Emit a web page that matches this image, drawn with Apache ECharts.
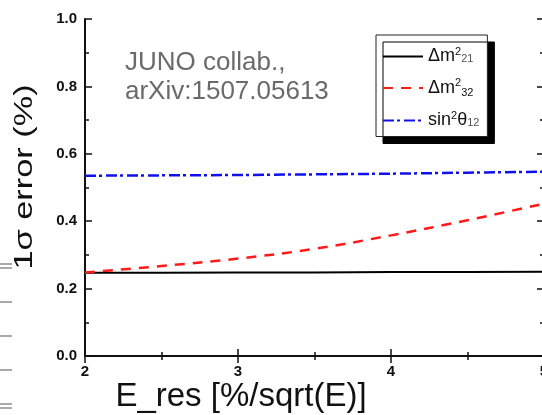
<!DOCTYPE html>
<html>
<head>
<meta charset="utf-8">
<script src="https://cdn.jsdelivr.net/npm/echarts@6/dist/echarts.min.js"></script>
<style>
  html, body { margin: 0; padding: 0; background: #fff; }
  #chart { width: 542px; height: 415px; }
</style>
</head>
<body>
<div id="chart"></div>
<script>
// Energy resolution (% / sqrt(E)) on the horizontal axis
var resolution = [2, 2.5, 3, 3.5, 4, 4.5, 5];

// 1-sigma relative precision (%) for each oscillation parameter
var dm21Error = [0.247, 0.247, 0.248, 0.248, 0.249, 0.249, 0.250];
var dm32Error = [0.248, 0.267, 0.289, 0.318, 0.358, 0.403, 0.452];
var s12Error  = [0.535, 0.536, 0.537, 0.539, 0.541, 0.544, 0.547];

var seriesNames = ['dm21', 'dm32', 's12'];
var legendLabels = {
  dm21: '{m|Δm}{sup|2}{sub|21}',
  dm32: '{m|Δm}{sup|2}{sub2|32}',
  s12:  '{m|sin}{sup|2}{m|θ}{sub|12}'
};

var xTicks = { min: 2, max: 5, step: 1 };
var yTicks = { min: 0, max: 1, step: 0.2 };

function pairs(xs, ys) {
  return xs.map(function (x, i) { return [x, ys[i]]; });
}

var FONT = 'Liberation Sans, Arial, sans-serif';

var axisLine = { show: true, lineStyle: { color: '#111', width: 2 } };

function xAxisDef(pos, labels) {
  return {
    type: 'value', position: pos,
    min: xTicks.min, max: xTicks.max, interval: xTicks.step,
    axisLine: axisLine,
    axisTick: { show: true, inside: true, length: 7, lineStyle: { color: '#111', width: 1.5 } },
    minorTick: { show: true, splitNumber: 2, length: 4, lineStyle: { color: '#111', width: 1.5 } },
    splitLine: { show: false },
    axisLabel: {
      show: labels, margin: 8, color: '#111', showMinLabel: true, showMaxLabel: true,
      hideOverlap: false,
      fontFamily: FONT, fontWeight: 'bold', fontSize: 15
    }
  };
}

function yAxisDef(pos, labels) {
  return {
    type: 'value', position: pos,
    min: yTicks.min, max: yTicks.max, interval: yTicks.step,
    axisLine: axisLine,
    axisTick: { show: true, inside: true, length: 7, lineStyle: { color: '#111', width: 1.5 } },
    minorTick: { show: true, splitNumber: 2, length: 4, lineStyle: { color: '#111', width: 1.5 } },
    splitLine: { show: false },
    axisLabel: {
      show: labels, margin: 8, color: '#111',
      fontFamily: FONT, fontWeight: 'bold', fontSize: 15,
      formatter: function (v) { return v.toFixed(1); }
    }
  };
}

var chart = echarts.init(document.getElementById('chart'), null, { renderer: 'canvas' });

var option = {
  backgroundColor: '#fff',
  animation: false,
  grid: { left: 85, top: 19, bottom: 59, right: -2, containLabel: false, outerBoundsMode: 'none' },
  xAxis: [xAxisDef('bottom', true), xAxisDef('top', false)],
  yAxis: [yAxisDef('left', true), yAxisDef('right', false)],
  legend: {
    orient: 'vertical',
    left: 376, top: 35,
    padding: [11, 8, 7, 6],
    itemGap: 12,
    itemWidth: 40, itemHeight: 14,
    backgroundColor: '#fff',
    borderColor: '#222', borderWidth: 1, borderRadius: 0,
    shadowColor: '#000', shadowBlur: 0, shadowOffsetX: 7, shadowOffsetY: 7,
    itemStyle: { color: 'transparent', borderWidth: 0, opacity: 0 },
    data: seriesNames,
    formatter: function (name) { return legendLabels[name]; },
    textStyle: {
      fontFamily: FONT,
      rich: {
        m: { fontSize: 18, color: '#111', fontFamily: FONT },
        sup: { fontSize: 11, color: '#111', fontFamily: FONT, padding: [0, 0, 10, 0] },
        sub: { fontSize: 11, color: '#555', fontFamily: FONT, padding: [5, 0, 0, 0] },
        sub2: { fontSize: 11, color: '#111', fontFamily: FONT, padding: [9, 0, 0, 0] }
      }
    }
  },
  series: [
    {
      name: 'dm21', type: 'line', showSymbol: false, symbol: 'none',
      data: pairs(resolution, dm21Error),
      lineStyle: { color: '#000', width: 2, type: 'solid' },
      itemStyle: { color: '#000' }
    },
    {
      name: 'dm32', type: 'line', showSymbol: false, symbol: 'none', smooth: 0.4,
      data: pairs(resolution, dm32Error),
      lineStyle: { color: '#ff1a1a', width: 2.5, type: [10, 8] },
      itemStyle: { color: '#ff1a1a' }
    },
    {
      name: 's12', type: 'line', showSymbol: false, symbol: 'none',
      data: pairs(resolution, s12Error),
      lineStyle: { color: '#1010ee', width: 2.5, type: [11, 3, 3, 4] },
      itemStyle: { color: '#1010ee' }
    }
  ],
  graphic: [
    {
      type: 'text', left: 125, top: 48, silent: true,
      style: {
        text: 'JUNO collab.,\narXiv:1507.05613',
        fill: '#6a6a6a', font: '26px ' + FONT, lineHeight: 29
      }
    },
    {
      type: 'text', x: 241, y: 397, silent: true,
      style: {
        text: 'E_res [%/sqrt(E)]', fill: '#111', font: '33px ' + FONT,
        align: 'center', verticalAlign: 'middle'
      }
    },
    {
      type: 'text', x: 25, y: 177, rotation: Math.PI / 2, scaleX: 1.32, silent: true,
      style: {
        text: '1σ error (%)', fill: '#111', font: '26px ' + FONT,
        align: 'center', verticalAlign: 'middle'
      }
    },
    // trimmed edge of the neighbouring panel
    { type: 'line', silent: true, shape: { x1: 0, y1: 264, x2: 12, y2: 264 }, style: { stroke: '#555', lineWidth: 1 } },
    { type: 'line', silent: true, shape: { x1: 0, y1: 268, x2: 12, y2: 268 }, style: { stroke: '#555', lineWidth: 1 } },
    { type: 'line', silent: true, shape: { x1: 0, y1: 302, x2: 12, y2: 302 }, style: { stroke: '#555', lineWidth: 1 } },
    { type: 'line', silent: true, shape: { x1: 0, y1: 336, x2: 12, y2: 336 }, style: { stroke: '#555', lineWidth: 1 } },
    { type: 'line', silent: true, shape: { x1: 0, y1: 370, x2: 12, y2: 370 }, style: { stroke: '#555', lineWidth: 1 } },
    { type: 'line', silent: true, shape: { x1: 0, y1: 404, x2: 12, y2: 404 }, style: { stroke: '#555', lineWidth: 1 } },
    { type: 'line', silent: true, shape: { x1: 0, y1: 408, x2: 12, y2: 408 }, style: { stroke: '#555', lineWidth: 1 } }
  ]
};

chart.setOption(option);
</script>
</body>
</html>
